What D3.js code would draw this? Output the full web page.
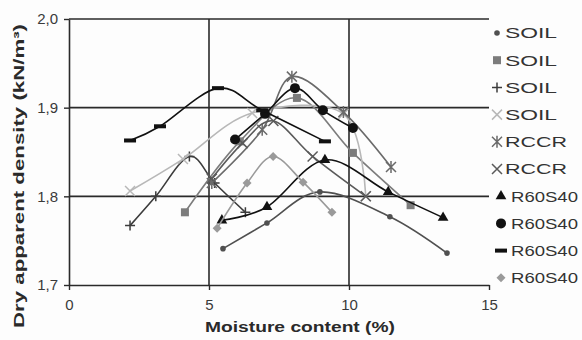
<!DOCTYPE html>
<html>
<head>
<meta charset="utf-8">
<script src="https://cdn.jsdelivr.net/npm/d3@7"></script>
<style>
  body { margin: 0; background: #fdfdfd; }
  svg { display: block; font-family: "Liberation Sans", Arial, sans-serif; }
</style>
</head>
<body>
<svg id="chart" width="582" height="340"></svg>
<script>
// axis ticks
const xTicks = [0, 5, 10, 15];
const yTicks = [1.7, 1.8, 1.9, 2.0];

// series values [moisture %, density]
const soilDot    = [[5.5, 1.741], [7.07, 1.770], [8.96, 1.805], [11.46, 1.777], [13.5, 1.736]];
const soilSquare = [[4.14, 1.782], [6.1, 1.862], [8.14, 1.911], [10.14, 1.849], [12.2, 1.790]];
const soilPlus   = [[2.18, 1.767], [3.1, 1.800], [4.3, 1.845], [5.2, 1.815], [6.3, 1.782]];
const soilCross  = [[2.18, 1.806], [4.07, 1.842], [6.54, 1.894], [9.8, 1.893], [10.6, 1.800]];
const rccrStar   = [[5.1, 1.815], [6.9, 1.875], [7.96, 1.935], [9.8, 1.895], [11.5, 1.833]];
const rccrCross  = [[5.1, 1.820], [6.2, 1.860], [7.3, 1.885], [8.7, 1.845], [10.6, 1.800]];
const rsTriangle = [[5.46, 1.773], [7.07, 1.788], [9.14, 1.841], [11.4, 1.805], [13.36, 1.776]];
const rsCircle   = [[5.93, 1.864], [7.0, 1.893], [8.07, 1.922], [9.07, 1.897], [10.14, 1.877]];
const rsDash     = [[2.18, 1.863], [3.25, 1.879], [5.32, 1.922], [6.9, 1.897], [9.14, 1.862]];
const rsDiamond  = [[5.29, 1.764], [6.36, 1.815], [7.29, 1.845], [8.36, 1.816], [9.39, 1.782]];

const labels = ["SOIL", "SOIL", "SOIL", "SOIL", "RCCR", "RCCR", "R60S40", "R60S40", "R60S40", "R60S40"];
const allSeries = [soilDot, soilSquare, soilPlus, soilCross, rccrStar, rccrCross, rsTriangle, rsCircle, rsDash, rsDiamond];
const markers = ["dot", "square", "plus", "cross", "star", "cross", "triangle", "circle", "dash", "diamond"];
const colors = ["#505050", "#7c7c7c", "#3c3c3c", "#b8b8b8", "#6a6a6a", "#5a5a5a", "#111", "#111", "#111", "#9a9a9a"];

const svg = d3.select("#chart");
const plotL = 69, plotR = 489, plotT = 19, plotB = 285;

const x = d3.scaleLinear().domain([0, 15]).range([plotL, plotR]);
const y = d3.scaleLinear().domain([1.7, 2.0]).range([plotB, plotT]);

// grid lines
svg.append("g")
  .selectAll("line")
  .data(yTicks.filter(d => d > 1.7))
  .enter()
  .append("line")
  .attr("x1", plotL).attr("x2", plotR)
  .attr("y1", d => y(d)).attr("y2", d => y(d))
  .attr("stroke", "#2a2a2a").attr("stroke-width", 1.6);

svg.append("g")
  .selectAll("line")
  .data(xTicks.filter(d => d > 0 && d < 15))
  .enter()
  .append("line")
  .attr("x1", d => x(d)).attr("x2", d => x(d))
  .attr("y1", plotT).attr("y2", plotB)
  .attr("stroke", "#2a2a2a").attr("stroke-width", 1.6);

// axes
const xAxis = svg.append("g")
  .attr("transform", "translate(0," + plotB + ")")
  .call(d3.axisBottom(x).tickValues(xTicks).tickSize(5).tickPadding(9).tickSizeOuter(0));
const yAxis = svg.append("g")
  .attr("transform", "translate(" + plotL + ",0)")
  .call(d3.axisLeft(y).tickValues(yTicks).tickSize(5).tickPadding(6).tickSizeOuter(0)
    .tickFormat(d => d3.format(".1f")(d).replace(".", ",")));

[xAxis, yAxis].forEach(a => {
  a.select(".domain").attr("stroke", "#2a2a2a").attr("stroke-width", 1.6);
  a.selectAll(".tick line").attr("stroke", "#2a2a2a").attr("stroke-width", 1.4);
  a.selectAll("text").style("font-size", "15px").attr("fill", "#3a3a3a");
});

// marker drawing
function drawMarker(g, type, color) {
  if (type === "dot") {
    g.append("circle").attr("r", 2.8).attr("fill", color);
  } else if (type === "circle") {
    g.append("circle").attr("r", 5).attr("fill", color);
  } else if (type === "square") {
    g.append("rect").attr("x", -4).attr("y", -4).attr("width", 8).attr("height", 8).attr("fill", color);
  } else if (type === "triangle") {
    g.append("path").attr("d", d3.symbol(d3.symbolTriangle, 50)()).attr("fill", color);
  } else if (type === "diamond") {
    g.append("path").attr("d", "M0,-4.5L4.5,0L0,4.5L-4.5,0Z").attr("fill", color);
  } else if (type === "dash") {
    g.append("rect").attr("x", -6).attr("y", -2).attr("width", 12).attr("height", 4).attr("fill", color);
  } else if (type === "plus") {
    g.append("path").attr("d", "M-5,0H5M0,-5V5").attr("stroke", color).attr("stroke-width", 1.5);
  } else if (type === "cross") {
    g.append("path").attr("d", "M-5,-5L5,5M-5,5L5,-5").attr("stroke", color).attr("stroke-width", 1.5);
  } else if (type === "star") {
    g.append("path").attr("d", "M-5,-5L5,5M-5,5L5,-5M0,-6V6").attr("stroke", color).attr("stroke-width", 1.5);
  }
}

// smoothed lines like the spreadsheet ones
const line = d3.line()
  .x(d => x(d[0]))
  .y(d => y(d[1]))
  .curve(d3.curveCardinal.tension(0));

// series lines and markers
allSeries.forEach((s, i) => {
  svg.append("path")
    .datum(s)
    .attr("d", line)
    .attr("fill", "none")
    .attr("stroke", colors[i])
    .attr("stroke-width", 1.6);

  const pts = svg.append("g").selectAll("g")
    .data(s)
    .enter()
    .append("g")
    .attr("transform", d => "translate(" + x(d[0]) + "," + y(d[1]) + ")");
  pts.each(function() { drawMarker(d3.select(this), markers[i], colors[i]); });
});

// legend
const legend = svg.append("g");
labels.forEach((lab, i) => {
  const ly = 33 + i * 27.2;
  const wide = lab === "R60S40";
  const m = legend.append("g").attr("transform", "translate(" + (wide ? 501 : 497) + "," + ly + ")");
  drawMarker(m, markers[i], colors[i]);
  legend.append("text")
    .attr("x", wide ? 511 : 505)
    .attr("y", ly)
    .attr("dy", "0.36em")
    .attr("textLength", wide ? 67 : (lab === "RCCR" ? 62 : 52))
    .attr("lengthAdjust", "spacingAndGlyphs")
    .style("font-size", "15px")
    .attr("fill", "#333")
    .text(lab);
});

// axis titles
svg.append("text")
  .attr("x", 300).attr("y", 332)
  .attr("text-anchor", "middle")
  .attr("textLength", 190)
  .attr("lengthAdjust", "spacingAndGlyphs")
  .style("font-size", "14px").style("font-weight", "bold")
  .attr("fill", "#2a2a2a")
  .text("Moisture content (%)");

svg.append("text")
  .attr("transform", "translate(24,176) rotate(-90)")
  .attr("text-anchor", "middle")
  .attr("textLength", 304)
  .attr("lengthAdjust", "spacingAndGlyphs")
  .style("font-size", "14px").style("font-weight", "bold")
  .attr("fill", "#2a2a2a")
  .text("Dry apparent density (kN/m³)");
</script>
</body>
</html>
